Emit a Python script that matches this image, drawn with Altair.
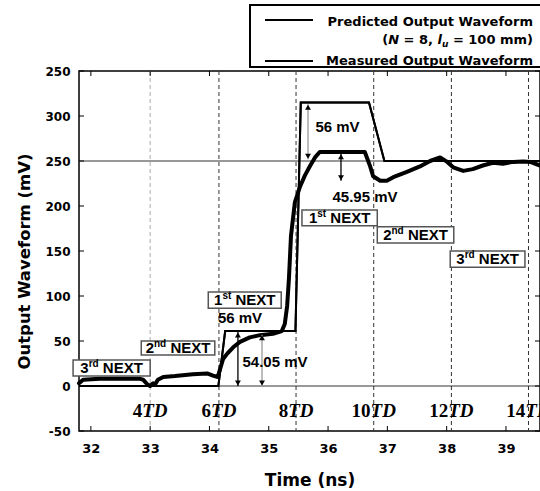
import altair as alt
import pandas as pd

# ---------------- data ----------------
pred_t = [31.80, 34.15, 34.265, 35.45, 35.54, 36.69, 36.95, 39.574]
pred_v = [0, 0, 61, 61, 315, 315, 250, 250]

meas_t = [31.80, 31.87, 32.15, 32.49, 32.83, 32.88, 32.95, 33.00, 33.05, 33.08, 33.13, 33.22, 33.42, 33.72, 33.96, 34.06, 34.14,
          34.18, 34.23, 34.30, 34.40, 34.515, 34.68, 34.85, 35.07, 35.22, 35.27, 35.31, 35.34, 35.375, 35.44, 35.53, 35.61, 35.70, 35.78, 35.86,
          36.62, 36.71, 36.76, 36.88, 36.99, 37.10, 37.33, 37.55, 37.72, 37.89, 38.01, 38.11, 38.28, 38.44, 38.61, 38.78, 38.95, 39.12, 39.29, 39.41, 39.574]
meas_v = [3, 7, 8, 8, 8, 7, 2, 0, 3, 1.5, 7, 10, 11, 13, 14, 11.5, 10,
          19, 30, 36, 43, 49, 54, 56.5, 58, 61, 69, 89, 119, 167, 204, 222, 234, 245, 254, 260,
          260, 244, 233, 228, 228, 232, 238, 244, 250, 254, 249, 243, 239, 241, 245, 248, 247, 249, 249.5, 249, 245]

x_ticks = [32, 33, 34, 35, 36, 37, 38, 39]
y_ticks = [-50, 0, 50, 100, 150, 200, 250, 300, 350]
h_lines = [0, 250]

td_t = [33.0, 34.16, 35.46, 36.77, 38.08, 39.38]
td_num = ["4", "6", "8", "10", "12", "14"]
td_label_v = -28

next_num = ["3", "2", "1", "1", "2", "3"]
next_sup = ["rd", "nd", "st", "st", "nd", "rd"]
next_x1 = [31.70, 32.85, 33.98, 35.56, 36.83, 38.06]
next_x2 = [33.00, 34.09, 35.21, 36.83, 38.12, 39.32]
next_y1 = [29, 50, 104.5, 195.5, 177, 150]
next_y2 = [11, 34.5, 86.5, 178, 159, 132]

mv_text = ["56 mV", "54.05 mV", "56 mV", "45.95 mV"]
mv_t = [34.515, 35.105, 36.159, 36.623]
mv_v = [75.5, 27, 288, 210.5]

arrow_black_t = [34.48, 36.218]
arrow_black_top = [60, 258]
arrow_black_bot = [0, 228]
arrow_grey_t = [34.886, 35.662]
arrow_grey_top = [57, 313]
arrow_grey_bot = [0, 252]

# ---------------- layout ----------------
W, H = 461, 360
XD = [31.8, 39.574]
YD = [-50, 350]
PX = (XD[1] - XD[0]) / W  # data units per pixel
xs = alt.Scale(domain=XD, nice=False, zero=False)
ys = alt.Scale(domain=YD, nice=False, zero=False)
BOLD = dict(font="DejaVu Sans", fontWeight="bold")

x_axis = alt.Axis(values=x_ticks, format="d", ticks=False, domain=False, grid=False,
                  labelFont="DejaVu Sans", labelFontWeight="bold", labelFontSize=13,
                  labelColor="black", labelPadding=11, labelFlush=False,
                  title="Time (ns)", titleFont="DejaVu Sans", titleFontWeight="bold",
                  titleFontSize=17, titleColor="black", titlePadding=17)
y_axis = alt.Axis(values=y_ticks,
                  labelExpr="datum.value == 350 ? '250' : replace(datum.label, '\u2212', '-')",
                  ticks=False, domain=False, grid=False,
                  labelFont="DejaVu Sans", labelFontWeight="bold", labelFontSize=12,
                  labelColor="black", labelPadding=9, labelFlush=False,
                  title="Output Waveform (mV)", titleFont="DejaVu Sans", titleFontWeight="bold",
                  titleFontSize=16.5, titleColor="black", titlePadding=12, titleY=190)


def X(f):
    return alt.X(f, type="quantitative", scale=xs, axis=x_axis)


def Y(f):
    return alt.Y(f, type="quantitative", scale=ys, axis=y_axis)


pred_df = pd.DataFrame({"t": pred_t, "v": pred_v, "i": range(len(pred_t))})
meas_df = pd.DataFrame({"t": meas_t, "v": meas_v, "i": range(len(meas_t))})
xt_df = pd.DataFrame({"t": x_ticks})
yt_df = pd.DataFrame({"v": y_ticks})
hl_df = pd.DataFrame({"v": h_lines})

# TD labels: number upright, "TD" italic, centred on the line
TDW = 1.333 * 19
td_rows = []
for t, n in zip(td_t, td_num):
    split = (len(n) * 9.5 - TDW) / 2
    td_rows.append({"t": t, "ts": t + split * PX, "num": n, "v": td_label_v})
td_df = pd.DataFrame(td_rows)

# NEXT boxes
AW = {"1": .556, "2": .556, "3": .556, "s": .556, "t": .333, "n": .611, "d": .611, "r": .389,
      " ": .278, "N": .722, "E": .667, "X": .667, "T": .611}


def wA(s, fs):
    return sum(AW[c] for c in s) * fs


nx_rows = []
for d, sp, x1, x2, y1, y2 in zip(next_num, next_sup, next_x1, next_x2, next_y1, next_y2):
    cx, cy = (x1 + x2) / 2, (y1 + y2) / 2
    wd, ws, wn = wA(d, 15), wA(sp, 10), wA(" NEXT", 15)
    start = -(wd + ws + wn) / 2
    nx_rows.append({"x1": x1, "x2": x2, "y1": y1, "y2": y2, "v": cy, "num": d, "sup": sp,
                    "tn": cx + start * PX, "ts": cx + (start + wd) * PX,
                    "tx": cx + (start + wd + ws + wA(" ", 15)) * PX})
nx_df = pd.DataFrame(nx_rows)

mv_df = pd.DataFrame({"t": mv_t, "v": mv_v, "txt": mv_text})
ab_df = pd.DataFrame({"t": arrow_black_t, "top": arrow_black_top, "bot": arrow_black_bot})
ag_df = pd.DataFrame({"t": arrow_grey_t, "top": arrow_grey_top, "bot": arrow_grey_bot})
arr_df = pd.concat([ab_df, ag_df], ignore_index=True)

layers = []
# predicted waveform first (carries the axes)
layers.append(alt.Chart(pred_df).mark_line(color="black", strokeWidth=2).encode(
    x=X("t"), y=Y("v"), order="i:Q"))
# horizontal reference lines
layers.append(alt.Chart(hl_df).mark_rule(color="#333", strokeWidth=1).encode(
    y=Y("v"), x=alt.value(0), x2=alt.value(W)))
# TD dashed lines
layers.append(alt.Chart(pd.DataFrame({"t": td_t[:1]})).mark_rule(color="#aaa", strokeWidth=1, strokeDash=[4, 3]).encode(
    x=X("t"), y=alt.value(0), y2=alt.value(H)))
layers.append(alt.Chart(pd.DataFrame({"t": td_t[1:]})).mark_rule(color="#333", strokeWidth=1, strokeDash=[4, 3]).encode(
    x=X("t"), y=alt.value(0), y2=alt.value(H)))
# ticks (inward)
layers.append(alt.Chart(xt_df).mark_rule(color="black").encode(x=X("t"), y=alt.value(H), y2=alt.value(H - 5)))
layers.append(alt.Chart(xt_df).mark_rule(color="black").encode(x=X("t"), y=alt.value(0), y2=alt.value(5)))
layers.append(alt.Chart(yt_df).mark_rule(color="black").encode(y=Y("v"), x=alt.value(0), x2=alt.value(5)))
layers.append(alt.Chart(yt_df).mark_rule(color="black").encode(y=Y("v"), x=alt.value(W), x2=alt.value(W - 5)))
layers.append(alt.Chart(pred_df).mark_line(color="black", strokeWidth=2).encode(
    x=X("t"), y=Y("v"), order="i:Q"))
layers.append(alt.Chart(meas_df).mark_line(color="black", strokeWidth=4, strokeJoin="round", strokeCap="round").encode(
    x=X("t"), y=Y("v"), order="i:Q"))
# arrows
layers.append(alt.Chart(ab_df).mark_rule(color="black", strokeWidth=1.3).encode(x=X("t"), y=Y("top"), y2="bot:Q"))
layers.append(alt.Chart(ag_df).mark_rule(color="#999", strokeWidth=1.3).encode(x=X("t"), y=Y("top"), y2="bot:Q"))
layers.append(alt.Chart(arr_df).mark_point(shape="triangle-up", filled=True, color="black", size=35, opacity=1, yOffset=3).encode(
    x=X("t"), y=Y("top")))
layers.append(alt.Chart(arr_df).mark_point(shape="triangle-down", filled=True, color="black", size=35, opacity=1, yOffset=-3).encode(
    x=X("t"), y=Y("bot")))
# mV texts
layers.append(alt.Chart(mv_df).mark_text(font="Liberation Sans", fontWeight="bold", fontSize=15, color="black",
                                         align="center", baseline="middle").encode(x=X("t"), y=Y("v"), text="txt:N"))
# TD labels
layers.append(alt.Chart(td_df).mark_text(font="Liberation Serif", fontWeight="bold", fontSize=19, color="black",
                                         align="right", baseline="middle").encode(x=X("ts"), y=Y("v"), text="num:N"))
layers.append(alt.Chart(td_df).mark_text(font="Liberation Serif", fontWeight="bold", fontStyle="italic", fontSize=19,
                                         color="black", align="left", baseline="middle", text="TD").encode(x=X("ts"), y=Y("v")))
# NEXT boxes
layers.append(alt.Chart(nx_df).mark_rect(fill="white", stroke="#555", strokeWidth=1.5).encode(
    x=X("x1"), x2="x2:Q", y=Y("y1"), y2="y2:Q"))
layers.append(alt.Chart(nx_df).mark_text(font="Liberation Sans", fontWeight="bold", fontSize=15, color="black",
                                         align="left", baseline="middle").encode(x=X("tn"), y=Y("v"), text="num:N"))
layers.append(alt.Chart(nx_df).mark_text(font="Liberation Sans", fontWeight="bold", fontSize=10, color="black",
                                         align="left", baseline="middle", dy=-4).encode(x=X("ts"), y=Y("v"), text="sup:N"))
layers.append(alt.Chart(nx_df).mark_text(font="Liberation Sans", fontWeight="bold", fontSize=15, color="black",
                                         align="left", baseline="middle", text="NEXT").encode(x=X("tx"), y=Y("v")))

# legend (drawn above the plot area)
one = pd.DataFrame({"a": [0]})
layers.append(alt.Chart(one).mark_rect(fill="white", stroke="black", strokeWidth=2).encode(
    x=alt.value(171), x2=alt.value(480), y=alt.value(-66), y2=alt.value(-4)))
layers.append(alt.Chart(one).mark_rule(color="black", strokeWidth=2).encode(
    x=alt.value(186), x2=alt.value(234), y=alt.value(-51)))
layers.append(alt.Chart(one).mark_rule(color="black", strokeWidth=2.2).encode(
    x=alt.value(186), x2=alt.value(234), y=alt.value(-10)))
layers.append(alt.Chart(one).mark_text(align="right", baseline="middle", fontSize=13, color="black",
                                       text="Predicted Output Waveform", **BOLD).encode(x=alt.value(454), y=alt.value(-49.5)))
layers.append(alt.Chart(one).mark_text(align="right", baseline="middle", fontSize=13, color="black",
                                       text="Measured Output Waveform", **BOLD).encode(x=alt.value(454), y=alt.value(-10)))
DW = {"(": .457, ")": .457, "N": .837, "=": .838, "8": .696, ",": .380, "l": .343, "u": .712,
      "1": .696, "0": .696, "m": 1.042}
SP = 0.348 * 13
pieces = [("(", 13, "normal", 0, 0), ("N", 13, "italic", 0, SP), ("=", 13, "normal", 0, SP), ("8,", 13, "normal", 0, SP),
          ("l", 13, "italic", 0, 0), ("u", 9, "italic", 4, SP), ("=", 13, "normal", 0, SP),
          ("100", 13, "normal", 0, SP), ("mm)", 13, "normal", 0, 0)]
total = sum(sum(DW[c] for c in p[0]) * p[1] + p[4] for p in pieces)
xl = 454 - total
for txt, fs, st, dy, gap in pieces:
    layers.append(alt.Chart(one).mark_text(align="left", baseline="middle", fontSize=fs, fontStyle=st,
                                           color="black", text=txt, dy=dy, **BOLD).encode(
        x=alt.value(xl), y=alt.value(-31)))
    xl += sum(DW[c] for c in txt) * fs + gap

chart = alt.layer(*layers).properties(
    width=W, height=H,
    padding={"left": 79, "top": 71, "right": 0, "bottom": 60},
    autosize=alt.AutoSizeParams(type="none"),
    background="white",
).configure_view(stroke="black", strokeWidth=1.5)

chart.save("out.html", embed_options={"renderer": "svg", "actions": False})
